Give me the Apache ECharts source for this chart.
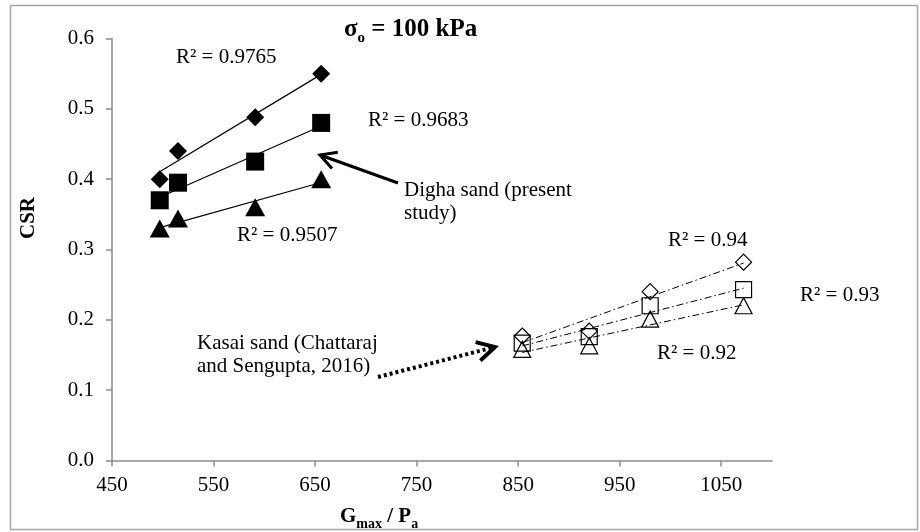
<!DOCTYPE html>
<html>
<head>
<meta charset="utf-8">
<script src="https://cdn.jsdelivr.net/npm/echarts@6/dist/echarts.min.js"></script>
<style>
html, body { margin: 0; padding: 0; background: #fff; }
#chart { width: 920px; height: 532px; }
</style>
</head>
<body>
<div id="chart"></div>
<script>
// tick labels on the x axis (Excel starts at 450, step 100)
var xTicks = [450, 550, 650, 750, 850, 950, 1050];

// Digha sand (present study)
var dighaX = [497, 515, 591, 656];
var dighaDiamond = [0.40, 0.44, 0.488, 0.55];
var dighaSquare = [0.37, 0.395, 0.425, 0.48];
var dighaTriangle = [0.33, 0.344, 0.36, 0.40];

// Kasai sand (Chattaraj and Sengupta, 2016)
var kasaiX = [854, 920, 980, 1072];
var kasaiDiamond = [0.177, 0.184, 0.24, 0.282];
var kasaiSquare = [0.167, 0.176, 0.22, 0.243];
var kasaiTriangle = [0.158, 0.163, 0.201, 0.22];

var r2Labels = ['R² = 0.9765', 'R² = 0.9683', 'R² = 0.9507', 'R² = 0.94', 'R² = 0.93', 'R² = 0.92'];

var FONT = '"Liberation Serif", "Times New Roman", serif';

function pairs(xs, ys) {
    return xs.map(function (x, i) { return [x, ys[i]]; });
}

// linear least squares trendline over the data range
function trend(xs, ys) {
    var n = xs.length, sx = 0, sy = 0, sxx = 0, sxy = 0;
    for (var i = 0; i < n; i++) {
        sx += xs[i]; sy += ys[i]; sxx += xs[i] * xs[i]; sxy += xs[i] * ys[i];
    }
    var b = (n * sxy - sx * sy) / (n * sxx - sx * sx), a = (sy - b * sx) / n;
    return [[xs[0], a + b * xs[0]], [xs[n - 1], a + b * xs[n - 1]]];
}

function trendSeries(xs, ys, dashed) {
    return {
        type: 'line', data: trend(xs, ys), symbol: 'none', silent: true, z: 1,
        lineStyle: { color: '#000', width: dashed ? 1 : 1.2, type: dashed ? [7, 3, 1.5, 3] : 'solid' }
    };
}

function pointSeries(xs, ys, symbol, size, open) {
    return {
        type: 'scatter', data: pairs(xs, ys), symbol: symbol, symbolSize: size, z: 3,
        itemStyle: open
            ? { color: 'rgba(0,0,0,0)', borderColor: '#000', borderWidth: 1.2, opacity: 1 }
            : { color: '#000', opacity: 1 }
    };
}

function label(text, x, y, extra) {
    var st = { text: text, x: 0, y: 0, fill: '#000', fontSize: 21, fontFamily: FONT, verticalAlign: 'middle', lineHeight: 23 };
    for (var k in extra || {}) st[k] = extra[k];
    return { type: 'text', x: x, y: y, style: st, z: 10 };
}

// open "V" arrow head pointing at tip, coming from tail
function arrowHead(tail, tip, len, ang, width, dash) {
    var a = Math.atan2(tail[1] - tip[1], tail[0] - tip[0]);
    var p1 = [tip[0] + len * Math.cos(a + ang), tip[1] + len * Math.sin(a + ang)];
    var p2 = [tip[0] + len * Math.cos(a - ang), tip[1] + len * Math.sin(a - ang)];
    return [
        { type: 'line', z: 10, shape: { x1: tail[0], y1: tail[1], x2: tip[0], y2: tip[1] },
          style: { stroke: '#000', lineWidth: width, lineDash: dash || null } },
        { type: 'polyline', z: 10, shape: { points: [p1, tip, p2] },
          style: { stroke: '#000', lineWidth: width, fill: null } }
    ];
}

var sub = { fontSize: 14, fontWeight: 'bold', fontFamily: FONT, lineHeight: 14, verticalAlign: 'bottom' };

var graphics = [
    { type: 'rect', shape: { x: 10.5, y: 5.5, width: 907, height: 524 }, style: { fill: null, stroke: '#a6a6a6', lineWidth: 1.5 }, z: 0 },
    label('{m|σ}{s|o}{m| = 100 kPa}', 344, 30, {
        rich: {
            m: { fontSize: 25, fontWeight: 'bold', fontFamily: FONT, lineHeight: 32, verticalAlign: 'middle' },
            s: { fontSize: 15, fontWeight: 'bold', fontFamily: FONT, lineHeight: 15, verticalAlign: 'bottom' }
        }
    }),
    label(r2Labels[0], 176, 57),
    label(r2Labels[1], 368, 120),
    label(r2Labels[2], 237, 235),
    label(r2Labels[3], 668, 240),
    label(r2Labels[4], 800, 295),
    label(r2Labels[5], 657, 353),
    label('Digha sand (present\nstudy)', 404, 202),
    label('Kasai sand (Chattaraj\nand Sengupta, 2016)', 197, 355),
    label('CSR', 0, 0, { fontWeight: 'bold', align: 'center' }),
    label('{m|G}{s|max}{m| / P}{s|a}', 340, 517, {
        rich: { m: { fontSize: 21, fontWeight: 'bold', fontFamily: FONT, lineHeight: 28, verticalAlign: 'middle' }, s: sub }
    })
];
// rotated y axis title
graphics[10].x = 29; graphics[10].y = 218; graphics[10].rotation = Math.PI / 2;

graphics = graphics.concat(arrowHead([398, 183], [320, 155], 18, 0.5, 3));
graphics = graphics.concat(arrowHead([378, 377], [495, 347], 20, 0.5, 4, [3, 3]));

var option = {
    backgroundColor: '#fff',
    animation: false,
    grid: { left: 112, right: 148, top: 38.5, bottom: 71.5 },
    xAxis: {
        type: 'value', min: 450, max: 1100, interval: 50,
        splitLine: { show: false },
        axisLine: { lineStyle: { color: '#8c8c8c', width: 1.5 } },
        axisTick: { length: 6, lineStyle: { color: '#8c8c8c', width: 1.5 }, customValues: xTicks },
        axisLabel: {
            customValues: xTicks, color: '#000', fontSize: 21, fontFamily: FONT, margin: 14,
            formatter: function (v) { return String(v); }
        }
    },
    yAxis: {
        type: 'value', min: 0, max: 0.6, interval: 0.1,
        splitLine: { show: false },
        axisLine: { show: true, lineStyle: { color: '#8c8c8c', width: 1.5 } },
        axisTick: { show: true, length: 6, lineStyle: { color: '#8c8c8c', width: 1.5 } },
        axisLabel: { color: '#000', fontSize: 21, fontFamily: FONT, margin: 18, formatter: function (v) { return v.toFixed(1); } }
    },
    series: [
        trendSeries(dighaX, dighaDiamond),
        trendSeries(dighaX, dighaSquare),
        trendSeries(dighaX, dighaTriangle),
        trendSeries(kasaiX, kasaiDiamond, true),
        trendSeries(kasaiX, kasaiSquare, true),
        trendSeries(kasaiX, kasaiTriangle, true),
        pointSeries(dighaX, dighaDiamond, 'diamond', 18),
        pointSeries(dighaX, dighaSquare, 'rect', 18),
        pointSeries(dighaX, dighaTriangle, 'triangle', [20, 18]),
        pointSeries(kasaiX, kasaiDiamond, 'diamond', 16, true),
        pointSeries(kasaiX, kasaiSquare, 'rect', 16, true),
        pointSeries(kasaiX, kasaiTriangle, 'triangle', [17, 16], true)
    ],
    graphic: graphics
};

echarts.init(document.getElementById('chart')).setOption(option);
</script>
</body>
</html>
